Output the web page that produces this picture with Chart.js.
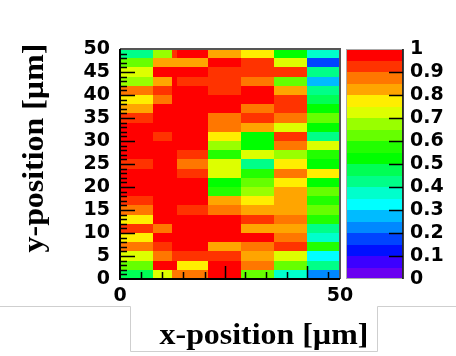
<!DOCTYPE html>
<html>
<head>
<meta charset="utf-8">
<script src="https://cdn.jsdelivr.net/npm/chart.js@4"></script>
<style>
  html, body { margin: 0; padding: 0; background: #fff; }
</style>
</head>
<body>
<canvas id="map" width="456" height="356"></canvas>
<script>
// bin edges in µm
const xEdges = [0, 7.5, 11.9, 12.9, 20, 27.5, 35, 42.5, 50];
const yEdges = [0, 2, 4, 6, 8, 10, 12, 14, 16, 18, 20, 22, 24, 26, 28, 30, 32, 34, 36, 38, 40, 42, 44, 46, 48, 50];

// efficiency per column, from y = 0 upward
const col1 = [0.47, 0.62, 0.72, 0.87, 0.77, 0.92, 0.77, 0.87, 0.92, 0.97, 0.97, 0.97, 0.92, 0.97, 0.97, 0.97, 0.97, 0.92, 0.82, 0.77, 0.87, 0.67, 0.72, 0.62, 0.42];
const col2 = [0.72, 0.97, 0.87, 0.92, 0.97, 0.87, 0.97, 0.97, 0.97, 0.97, 0.97, 0.97, 0.97, 0.97, 0.97, 0.92, 0.97, 0.97, 0.97, 0.87, 0.92, 0.82, 0.97, 0.82, 0.67];
const col3 = [0.87, 0.97, 0.92, 0.97, 0.97, 0.97, 0.97, 0.97, 0.97, 0.97, 0.97, 0.97, 0.97, 0.97, 0.97, 0.97, 0.97, 0.97, 0.97, 0.97, 0.97, 0.97, 0.97, 0.82, 0.93];
const col4 = [0.87, 0.77, 0.92, 0.97, 0.97, 0.97, 0.97, 0.92, 0.97, 0.97, 0.97, 0.92, 0.87, 0.92, 0.97, 0.97, 0.97, 0.97, 0.97, 0.97, 0.97, 0.92, 0.97, 0.82, 0.97];
const col5 = [0.97, 0.97, 0.92, 0.82, 0.97, 0.97, 0.97, 0.87, 0.82, 0.55, 0.52, 0.72, 0.72, 0.55, 0.67, 0.77, 0.87, 0.87, 0.97, 0.97, 0.92, 0.92, 0.92, 0.97, 0.82];
const col6 = [0.62, 0.87, 0.82, 0.87, 0.97, 0.82, 0.92, 0.82, 0.77, 0.67, 0.62, 0.55, 0.42, 0.72, 0.52, 0.52, 0.82, 0.92, 0.87, 0.97, 0.97, 0.87, 0.92, 0.92, 0.77];
const col7 = [0.37, 0.62, 0.72, 0.92, 0.87, 0.82, 0.87, 0.82, 0.82, 0.82, 0.77, 0.87, 0.77, 0.67, 0.87, 0.92, 0.72, 0.87, 0.92, 0.92, 0.82, 0.62, 0.92, 0.72, 0.52];
const col8 = [0.22, 0.40, 0.32, 0.55, 0.37, 0.42, 0.55, 0.62, 0.55, 0.62, 0.52, 0.77, 0.52, 0.55, 0.72, 0.42, 0.52, 0.62, 0.52, 0.47, 0.42, 0.27, 0.43, 0.17, 0.37];
const columns = [col1, col2, col3, col4, col5, col6, col7, col8];

// axis ticks
const yLabelTicks = [0, 5, 10, 15, 20, 25, 30, 35, 40, 45, 50];
const xLabelTicks = [0, 50];
const xTickMarks = [4.8, 9.5, 14.4, 19.3, 23.9, 28.4, 33.2, 37.9, 42.6, 47.3];
const xMajorMarks = [23.9, 42.6];
const zTicks = [0, 0.1, 0.2, 0.3, 0.4, 0.5, 0.6, 0.7, 0.8, 0.9, 1];

// 20-level rainbow palette, low -> high
const palette = ['#6a00f0', '#3c00ff', '#0010ff', '#0044ff', '#0088ff', '#00bbff', '#00ffff', '#00ffcc', '#00ff88', '#00ff55',
                 '#00ff00', '#22ff00', '#66ff00', '#99ff00', '#ddff00', '#ffee00', '#ffa500', '#ff7700', '#ff3300', '#ff0000'];
function colorFor(v) {
    let i = Math.floor(v * palette.length);
    if (i < 0) i = 0;
    if (i > palette.length - 1) i = palette.length - 1;
    return palette[i];
}

const cells = [];
columns.forEach((col, ci) => {
    col.forEach((v, ri) => {
        cells.push({
            x: (xEdges[ci] + xEdges[ci + 1]) / 2, y: (yEdges[ri] + yEdges[ri + 1]) / 2,
            x0: xEdges[ci], x1: xEdges[ci + 1], y0: yEdges[ri], y1: yEdges[ri + 1], v: v
        });
    });
});

const tickFont = { family: 'DejaVu Sans', size: 19, weight: 'bold' };

// fixed axis boxes so the plot sits where the original does
const fixV = w => s => { s.width = w; s.paddingTop = 0; s.paddingBottom = 0; };
const fixH = h => s => { s.height = h; s.paddingLeft = 0; s.paddingRight = 0; };

const heatPlugin = {
    id: 'heat',
    beforeDatasetsDraw(chart) {
        const { ctx, scales } = chart;
        const xs = scales.x, ys = scales.y;
        ctx.save();
        chart.data.datasets[0].data.forEach(c => {
            const l = Math.round(xs.getPixelForValue(c.x0));
            const r = Math.round(xs.getPixelForValue(c.x1));
            const t = Math.round(ys.getPixelForValue(c.y1));
            const b = Math.round(ys.getPixelForValue(c.y0));
            ctx.fillStyle = colorFor(c.v);
            ctx.fillRect(l, t, r - l, b - t);
        });
        ctx.restore();
    },
    afterDraw(chart) {
        const { ctx, chartArea, scales } = chart;
        const xs = scales.x, ys = scales.y, zs = scales.z;
        ctx.save();

        // colour bar
        const bl = chartArea.right + 6, br = chartArea.right + 63;
        for (let i = 0; i < palette.length; i++) {
            const t = Math.round(zs.getPixelForValue((i + 1) / palette.length));
            const b = Math.round(zs.getPixelForValue(i / palette.length));
            ctx.fillStyle = palette[i];
            ctx.fillRect(bl, t, br - bl, b - t);
        }
        ctx.strokeStyle = '#aaa';
        ctx.lineWidth = 1;
        ctx.strokeRect(bl + 0.5, zs.getPixelForValue(1) + 0.5, br - bl - 1, zs.getPixelForValue(0) - zs.getPixelForValue(1) - 1);
        ctx.strokeStyle = '#000';
        ctx.lineWidth = 1.5;
        ctx.beginPath();
        ctx.moveTo(br, zs.getPixelForValue(1)); ctx.lineTo(br, zs.getPixelForValue(0));
        zTicks.slice(1, -1).forEach(v => {
            const y = Math.round(zs.getPixelForValue(v)) + 0.5;
            ctx.moveTo(br - 14, y); ctx.lineTo(br, y);
        });
        ctx.stroke();

        // frame
        ctx.strokeStyle = '#555';
        ctx.lineWidth = 2;
        ctx.beginPath();
        ctx.moveTo(chartArea.left, chartArea.top); ctx.lineTo(chartArea.right, chartArea.top);
        ctx.lineTo(chartArea.right, chartArea.bottom);
        ctx.stroke();
        ctx.strokeStyle = '#000';
        ctx.beginPath();
        ctx.moveTo(chartArea.left, chartArea.top); ctx.lineTo(chartArea.left, chartArea.bottom);
        ctx.lineTo(chartArea.right, chartArea.bottom);
        ctx.stroke();

        // inward ticks
        ctx.lineWidth = 1.5;
        ctx.beginPath();
        for (let v = 1; v < 50; v++) {
            const y = Math.round(ys.getPixelForValue(v)) + 0.5;
            const len = v % 5 === 0 ? 15 : 7;
            ctx.moveTo(chartArea.left, y); ctx.lineTo(chartArea.left + len, y);
        }
        xTickMarks.forEach(v => {
            const x = Math.round(xs.getPixelForValue(v)) + 0.5;
            const len = xMajorMarks.includes(v) ? 13 : 7;
            ctx.moveTo(x, chartArea.bottom); ctx.lineTo(x, chartArea.bottom - len);
        });
        ctx.stroke();

        // axis titles
        ctx.fillStyle = '#000';
        ctx.font = 'bold 29px "Liberation Serif"';
        ctx.textAlign = 'center';
        ctx.textBaseline = 'alphabetic';
        ctx.save();
        ctx.translate(264, 344);
        ctx.scale(1.1, 1);
        ctx.fillText('x-position [µm]', 0, 0);
        ctx.restore();
        ctx.save();
        ctx.translate(43, 148);
        ctx.rotate(-Math.PI / 2);
        ctx.scale(1.1, 1);
        ctx.fillText('y-position [µm]', 0, 0);
        ctx.restore();

        // page edges of the pasted figure
        ctx.strokeStyle = '#cfcfcf';
        ctx.lineWidth = 1;
        ctx.beginPath();
        ctx.moveTo(0, 306.5); ctx.lineTo(130.5, 306.5); ctx.lineTo(130.5, 351.5);
        ctx.lineTo(377.5, 351.5); ctx.lineTo(377.5, 306.5); ctx.lineTo(456, 306.5);
        ctx.stroke();
        ctx.restore();
    }
};

const ctx = document.getElementById('map').getContext('2d');
const map = new Chart(ctx, {
    type: 'scatter',
    data: {
        datasets: [{
            label: 'efficiency',
            data: cells,
            pointRadius: 0,
            pointHoverRadius: 0
        }]
    },
    options: {
        responsive: false,
        animation: false,
        events: [],
        layout: { autoPadding: false, padding: { top: 49, left: 0, right: 0, bottom: 0 } },
        plugins: { legend: { display: false }, tooltip: { enabled: false } },
        scales: {
            x: {
                type: 'linear', min: 0, max: 50,
                grid: { display: false, drawTicks: false },
                border: { display: false },
                afterBuildTicks: s => { s.ticks = xLabelTicks.map(v => ({ value: v })); },
                afterFit: fixH(77),
                ticks: { color: '#000', font: tickFont, padding: 6, maxRotation: 0, autoSkip: false }
            },
            y: {
                type: 'linear', min: 0, max: 50,
                grid: { display: false, drawTicks: false },
                border: { display: false },
                afterBuildTicks: s => { s.ticks = yLabelTicks.map(v => ({ value: v })); },
                afterFit: fixV(120),
                ticks: { color: '#000', font: tickFont, padding: 10, autoSkip: false }
            },
            z: {
                type: 'linear', axis: 'y', position: 'right', min: 0, max: 1,
                grid: { display: false, drawTicks: false },
                border: { display: false },
                afterBuildTicks: s => { s.ticks = zTicks.map(v => ({ value: v })); },
                afterFit: fixV(116),
                ticks: { color: '#000', font: tickFont, padding: 70, autoSkip: false,
                         callback: v => String(+v.toFixed(1)) }
            }
        }
    },
    plugins: [heatPlugin]
});
</script>
</body>
</html>
